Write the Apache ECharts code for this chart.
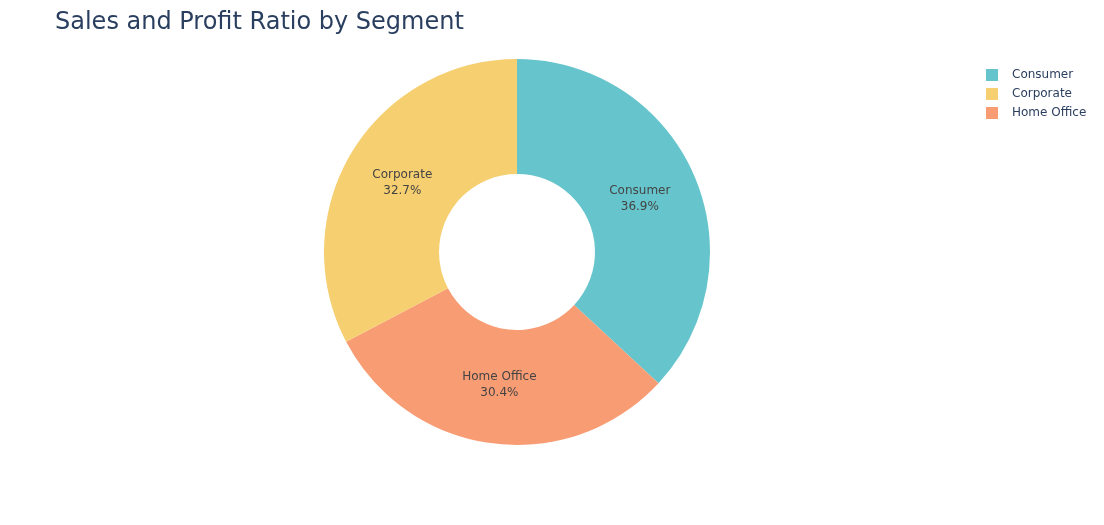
<!DOCTYPE html>
<html>
<head>
<meta charset="utf-8">
<script src="https://cdn.jsdelivr.net/npm/echarts@6/dist/echarts.min.js"></script>
<style>
  html, body { margin: 0; padding: 0; background: #fff; }
  #chart { width: 1104px; height: 525px; }
</style>
</head>
<body>
<div id="chart"></div>
<script>
// segments in clockwise drawing order, values are share of sales (%)
var segments = ["Consumer", "Home Office", "Corporate"];
var shares = [36.9, 30.4, 32.7];
var legendOrder = ["Consumer", "Corporate", "Home Office"];
var segmentColors = {
  "Consumer": "#66C5CC",
  "Corporate": "#F6CF71",
  "Home Office": "#F89C74"
};

var dom = document.getElementById("chart");
var myChart = echarts.init(dom);

var pieData = segments.map(function (name, i) {
  return { name: name, value: shares[i], itemStyle: { color: segmentColors[name] } };
});

var option = {
  textStyle: { fontFamily: "DejaVu Sans" },
  title: {
    text: "Sales and Profit Ratio by Segment",
    left: 50,
    top: 6,
    textStyle: { fontFamily: "DejaVu Sans", fontSize: 24, fontWeight: "normal", color: "#2a3f5f" }
  },
  legend: {
    data: legendOrder,
    orient: "vertical",
    left: 981,
    top: 64,
    itemWidth: 12,
    itemHeight: 12,
    itemGap: 7,
    icon: "rect",
    textStyle: { fontFamily: "DejaVu Sans", fontSize: 12, color: "#2a3f5f", padding: [0, 0, 0, 9] }
  },
  series: [
    {
      type: "pie",
      center: [517, 252],
      radius: [78, 193],
      startAngle: 90,
      clockwise: true,
      data: pieData,
      itemStyle: { borderWidth: 0 },
      emphasis: { scale: false },
      label: { show: false },
      labelLine: { show: false }
    },
    {
      // label-only ring, a bit narrower so the text sits slightly inward
      type: "pie",
      center: [517, 252],
      radius: [78, 184],
      startAngle: 90,
      clockwise: true,
      silent: true,
      data: segments.map(function (name, i) { return { name: name, value: shares[i] }; }),
      itemStyle: { color: "rgba(0,0,0,0)", borderWidth: 0 },
      label: {
        show: true,
        position: "inside",
        formatter: function (p) { return p.name + "\n" + p.value.toFixed(1) + "%"; },
        fontFamily: "DejaVu Sans",
        fontSize: 12,
        lineHeight: 16,
        color: "#444"
      },
      labelLine: { show: false }
    }
  ]
};

myChart.setOption(option, true);
</script>
</body>
</html>
